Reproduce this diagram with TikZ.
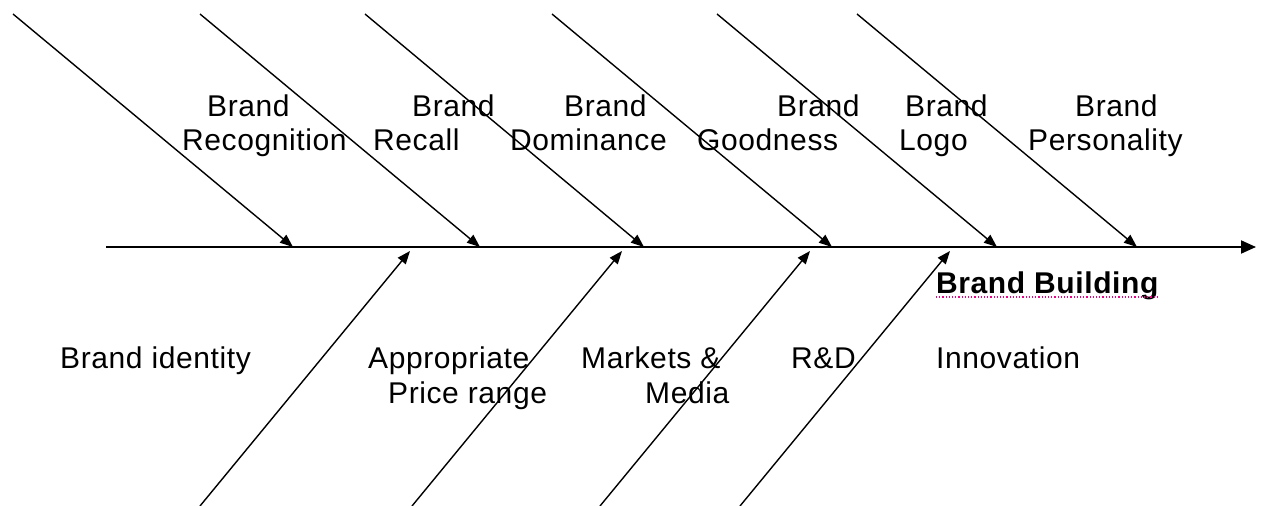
\documentclass[tikz,border=0pt]{standalone}
\usepackage{fontspec}
\setmainfont{Liberation Sans}[LetterSpace=2]
\usetikzlibrary{arrows.meta}
\begin{document}
\begin{tikzpicture}[x=1pt,y=-1pt,
  bone/.style={line width=1.4pt,-{Triangle[length=13pt,width=10pt]}},
  spine/.style={line width=2pt,-{Triangle[length=15pt,width=13pt]}},
  lbl/.style={anchor=base west,inner sep=0pt,font=\fontsize{30}{34}\selectfont}]
\useasboundingbox (0,0) rectangle (1261,506);
% spine
\coordinate (tail) at (106,247);
\coordinate (head) at (1256,247);
\draw[spine] (tail) -- (head);
% upper bones
\coordinate (u1s) at (13,14);  \coordinate (u1t) at (293,247);
\coordinate (u2s) at (200,14); \coordinate (u2t) at (480,247);
\coordinate (u3s) at (365,14); \coordinate (u3t) at (644,247);
\coordinate (u4s) at (552,14); \coordinate (u4t) at (832,247);
\coordinate (u5s) at (717,14); \coordinate (u5t) at (997,247);
\coordinate (u6s) at (857,14); \coordinate (u6t) at (1137,247);
\foreach \i in {1,...,6} \draw[bone] (u\i s) -- (u\i t);
% lower bones
\coordinate (l1s) at (200,506); \coordinate (l1t) at (410,251);
\coordinate (l2s) at (412,506); \coordinate (l2t) at (622,251);
\coordinate (l3s) at (600,506); \coordinate (l3t) at (810,251);
\coordinate (l4s) at (740,506); \coordinate (l4t) at (950,251);
\foreach \i in {1,...,4} \draw[bone] (l\i s) -- (l\i t);
% upper labels
\node[lbl] (t1a) at (207,116) {Brand};
\node[lbl] (t1b) at (182,150) {Recognition};
\node[lbl] (t2a) at (412,116) {Brand};
\node[lbl] (t2b) at (373,150) {Recall};
\node[lbl] (t3a) at (564,116) {Brand};
\node[lbl] (t3b) at (510,150) {Dominance};
\node[lbl] (t4a) at (777,116) {Brand};
\node[lbl] (t4b) at (697,150) {Goodness};
\node[lbl] (t5a) at (905,116) {Brand};
\node[lbl] (t5b) at (899,150) {Logo};
\node[lbl] (t6a) at (1075,116) {Brand};
\node[lbl] (t6b) at (1028,150) {Personality};
% lower labels
\node[lbl] (b1) at (60,368) {Brand identity};
\node[lbl] (b2a) at (368,368) {Appropriate};
\node[lbl] (b2b) at (388,403) {Price range};
\node[lbl] (b3a) at (581,368) {Markets \&};
\node[lbl] (b3b) at (645,403) {Media};
\node[lbl] (b4) at (791,368) {R\&D};
\node[lbl] (b5) at (936,368) {Innovation};
% effect
\node[lbl,font=\fontsize{30}{34}\selectfont\bfseries] (effect) at (936,293) {Brand Building};
\draw[magenta,line width=1.2pt,dotted] ([yshift=-4pt]effect.base west) -- ([yshift=-4pt]effect.base east);
\end{tikzpicture}
\end{document}
